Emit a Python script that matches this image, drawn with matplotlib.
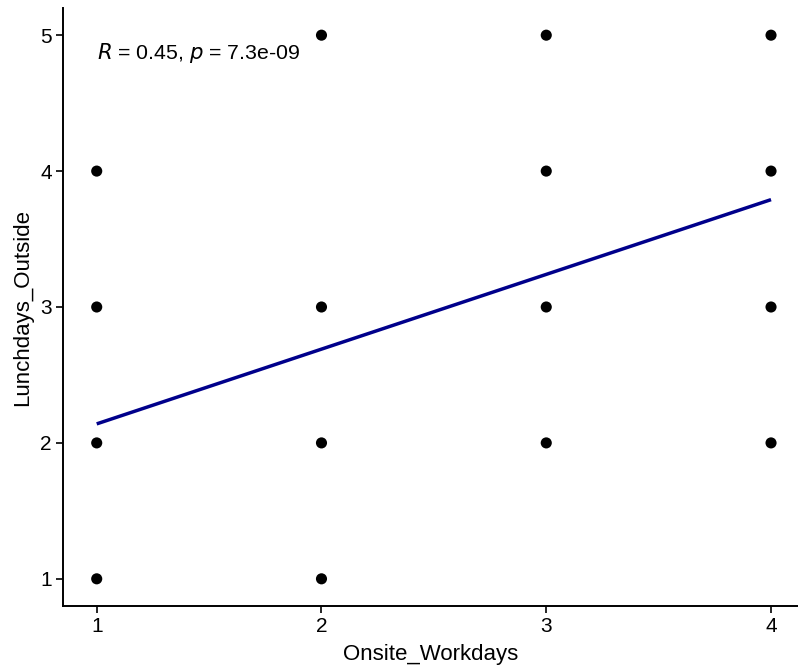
import matplotlib
matplotlib.use("Agg")
from matplotlib import pyplot as plt
import numpy as np

plt.rcParams['font.family'] = ['Liberation Sans', 'DejaVu Sans']

# observed (Onsite_Workdays, Lunchdays_Outside) combinations
onsite = [1, 1, 1, 1, 2, 2, 2, 2, 3, 3, 3, 3, 4, 4, 4, 4]
lunch_out = [4, 3, 2, 1, 5, 3, 2, 1, 5, 4, 3, 2, 5, 4, 3, 2]

# fitted regression line
fit_x = [1, 4]
fit_y = [2.14, 3.79]

r_value = 0.45
p_value = "7.3e-09"

fig = plt.figure(figsize=(7.98, 6.71), dpi=100)
ax = fig.add_axes([63 / 798, 65 / 671, 735 / 798, 598 / 671])

ax.plot(fit_x, fit_y, color='#00008B', linewidth=2.5, solid_capstyle='butt', zorder=2)
ax.scatter(onsite, lunch_out, s=64, color='black', edgecolors='none', zorder=3)

ax.text(1, 4.87, f"$\\it{{R}}$ = {r_value:.2f}, $\\it{{p}}$ = {p_value}",
        fontsize=15.3, ha='left', va='center')

ax.set_xlim(0.85, 4.12)
ax.set_ylim(0.8, 5.2)
ax.set_xticks([1, 2, 3, 4])
ax.set_yticks([1, 2, 3, 4, 5])

ax.set_xlabel("Onsite_Workdays", fontsize=16, labelpad=6)
ax.set_ylabel("Lunchdays_Outside", fontsize=16, labelpad=5)

for side in ['top', 'right']:
    ax.spines[side].set_visible(False)
for side in ['left', 'bottom']:
    ax.spines[side].set_linewidth(1.4)
ax.tick_params(axis='both', labelsize=15, length=5, width=1.2, color='black', pad=3)

plt.savefig('out.png', dpi=100)
